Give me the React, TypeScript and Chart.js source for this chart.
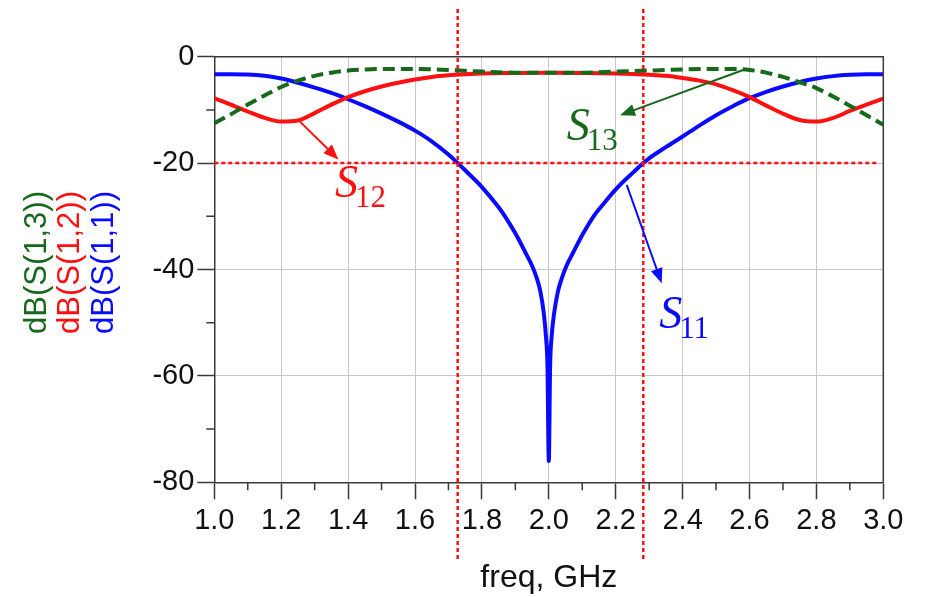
import { useEffect, useRef } from "react";
import { Chart, registerables } from "chart.js";

Chart.register(...registerables);

// ---- Data ----
const freqS11 = [1.0, 1.05, 1.1, 1.15, 1.2, 1.25, 1.3, 1.35, 1.4, 1.45, 1.5, 1.55, 1.6, 1.65, 1.7, 1.7276, 1.75, 1.8, 1.85, 1.869, 1.9, 1.93, 1.95, 1.965, 1.975, 1.985, 1.992, 1.996, 2.0, 2.004, 2.008, 2.016, 2.027, 2.038, 2.053, 2.073, 2.103, 2.134, 2.155, 2.205, 2.255, 2.2825, 2.3, 2.35, 2.4, 2.45, 2.5, 2.55, 2.6, 2.65, 2.7, 2.75, 2.8, 2.85, 2.9, 2.95, 3.0];
const dbS11 = [-3.3, -3.3, -3.35, -3.6, -4.1, -4.9, -5.8, -6.8, -8.0, -9.3, -10.7, -12.2, -13.9, -15.9, -18.4, -20.0, -21.35, -24.5, -28.3, -30.0, -33.2, -36.8, -39.3, -41.8, -44.2, -48.2, -53.0, -58.0, -76.0, -58.0, -53.0, -48.2, -44.2, -41.8, -39.3, -36.8, -33.2, -30.0, -28.3, -24.6, -21.6, -20.0, -19.1, -17.0, -15.0, -12.95, -11.0, -9.3, -7.8, -6.6, -5.6, -4.75, -4.1, -3.65, -3.4, -3.3, -3.3];

const freqS12 = [1.0, 1.05, 1.1, 1.15, 1.2, 1.25, 1.3, 1.35, 1.4, 1.45, 1.5, 1.55, 1.6, 1.65, 1.7, 1.75, 1.8, 1.9, 2.0, 2.1, 2.2, 2.25, 2.3, 2.35, 2.4, 2.45, 2.5, 2.55, 2.6, 2.65, 2.7, 2.75, 2.8, 2.85, 2.9, 2.95, 3.0];
const dbS12 = [-7.8, -9.0, -10.3, -11.5, -12.2, -12.0, -10.6, -9.0, -7.6, -6.5, -5.6, -4.9, -4.3, -3.8, -3.5, -3.3, -3.15, -3.05, -3.0, -3.05, -3.15, -3.25, -3.4, -3.6, -4.0, -4.5, -5.2, -6.3, -7.6, -9.2, -10.7, -11.9, -12.2, -11.5, -10.2, -9.0, -7.9];

const freqS13 = [1.0, 1.05, 1.1, 1.15, 1.2, 1.25, 1.3, 1.35, 1.4, 1.45, 1.5, 1.6, 1.7, 1.8, 1.9, 2.0, 2.1, 2.2, 2.3, 2.4, 2.5, 2.55, 2.6, 2.65, 2.7, 2.75, 2.8, 2.85, 2.9, 2.95, 3.0];
const dbS13 = [-12.5, -10.8, -9.0, -7.3, -5.7, -4.5, -3.6, -3.0, -2.6, -2.4, -2.3, -2.3, -2.5, -2.8, -3.0, -3.0, -3.0, -2.8, -2.6, -2.4, -2.3, -2.3, -2.5, -3.0, -3.8, -4.8, -5.9, -7.5, -9.2, -11.0, -12.8];

const xMin = 1.0;
const xMax = 3.0;
const xStep = 0.2;
const xMinorTicks = [1.1, 1.3, 1.5, 1.7, 1.9, 2.1, 2.3, 2.5, 2.7, 2.9];
const yMin = -80;
const yMax = 0;
const yStep = 20;
const yMinorTicks = [-10, -30, -50, -70];

const markerFreqs = [1.7276, 2.2825];
const markerLevel = -20;

const yTitles = ["dB(S(1,3))", "dB(S(1,2))", "dB(S(1,1))"];
const xTitle = "freq, GHz";

const GREEN = "#16681a";
const RED = "#ff1010";
const BLUE = "#0a0aff";

// annotations: label text, anchor in data coordinates, arrow start/end in data coordinates
const annotations = [
  { main: "S", sub: "12", color: RED, at: [1.361, -26.4], from: [1.256, -12.2], to: [1.371, -19.3] },
  { main: "S", sub: "13", color: GREEN, at: [2.054, -15.7], from: [2.581, -2.5], to: [2.213, -11.0] },
  { main: "S", sub: "11", color: BLUE, at: [2.33, -51.0], from: [2.233, -24.1], to: [2.3375, -42.6] },
];

const overlayPlugin = {
  id: "overlay",
  afterDatasetsDraw(chart: any) {
    const { ctx, chartArea: ca, scales } = chart;
    const x = scales.x;
    const y = scales.y;
    ctx.save();

    // box top/right
    ctx.strokeStyle = "#3a3a3a";
    ctx.lineWidth = 1.5;
    ctx.beginPath();
    ctx.moveTo(ca.left, ca.top);
    ctx.lineTo(ca.right, ca.top);
    ctx.lineTo(ca.right, ca.bottom);
    ctx.stroke();

    // minor ticks
    ctx.lineWidth = 1.5;
    ctx.beginPath();
    for (const v of xMinorTicks) {
      const px = x.getPixelForValue(v);
      ctx.moveTo(px, ca.bottom);
      ctx.lineTo(px, ca.bottom + 8);
    }
    for (const v of yMinorTicks) {
      const py = y.getPixelForValue(v);
      ctx.moveTo(ca.left, py);
      ctx.lineTo(ca.left - 8, py);
    }
    ctx.stroke();

    // red dotted marker lines
    ctx.strokeStyle = RED;
    ctx.lineWidth = 2.5;
    ctx.setLineDash([4, 3]);
    ctx.beginPath();
    for (const f of markerFreqs) {
      const px = x.getPixelForValue(f);
      ctx.moveTo(px, 9);
      ctx.lineTo(px, 562);
    }
    const hy = y.getPixelForValue(markerLevel);
    ctx.moveTo(ca.left, hy);
    ctx.lineTo(ca.right - 5, hy);
    ctx.stroke();
    ctx.setLineDash([]);

    // arrows and labels
    for (const a of annotations) {
      const x1 = x.getPixelForValue(a.from[0]);
      const y1 = y.getPixelForValue(a.from[1]);
      const x2 = x.getPixelForValue(a.to[0]);
      const y2 = y.getPixelForValue(a.to[1]);
      const ang = Math.atan2(y2 - y1, x2 - x1);
      const headL = 15;
      const headW = 6;
      ctx.strokeStyle = a.color;
      ctx.fillStyle = a.color;
      ctx.lineWidth = 2;
      ctx.beginPath();
      ctx.moveTo(x1, y1);
      ctx.lineTo(x2 - headL * 0.8 * Math.cos(ang), y2 - headL * 0.8 * Math.sin(ang));
      ctx.stroke();
      ctx.beginPath();
      ctx.moveTo(x2, y2);
      ctx.lineTo(x2 - headL * Math.cos(ang) - headW * Math.sin(ang), y2 - headL * Math.sin(ang) + headW * Math.cos(ang));
      ctx.lineTo(x2 - headL * Math.cos(ang) + headW * Math.sin(ang), y2 - headL * Math.sin(ang) - headW * Math.cos(ang));
      ctx.closePath();
      ctx.fill();

      const lx = x.getPixelForValue(a.at[0]);
      const ly = y.getPixelForValue(a.at[1]);
      ctx.textAlign = "left";
      ctx.textBaseline = "alphabetic";
      ctx.font = "italic 46px 'Liberation Serif', 'DejaVu Serif', serif";
      ctx.fillText(a.main, lx, ly);
      const w = ctx.measureText(a.main).width;
      ctx.font = "31px 'Liberation Serif', 'DejaVu Serif', serif";
      ctx.fillText(a.sub, lx + w - 3, ly + 10);
    }

    ctx.restore();
  },
  afterDraw(chart: any) {
    const { ctx, chartArea: ca } = chart;
    ctx.save();
    ctx.font = "31px 'Liberation Sans', Arial, sans-serif";
    ctx.textAlign = "center";
    ctx.textBaseline = "middle";
    const colors = [GREEN, RED, BLUE];
    const centers = [37, 70.5, 104];
    const cy = (ca.top + ca.bottom) / 2 - 7;
    yTitles.forEach((t, i) => {
      ctx.save();
      ctx.translate(centers[i], cy);
      ctx.rotate(-Math.PI / 2);
      ctx.fillStyle = colors[i];
      ctx.fillText(t, 0, 0);
      ctx.restore();
    });
    ctx.restore();
  },
};

export default function App() {
  const ref = useRef<HTMLCanvasElement | null>(null);

  useEffect(() => {
    if (!ref.current) return;
    const tickFont = { family: "'Liberation Sans', Arial, sans-serif", size: 29 };
    const chart = new Chart(ref.current, {
      type: "line",
      data: {
        datasets: [
          {
            label: yTitles[0],
            data: freqS13.map((f, i) => ({ x: f, y: dbS13[i] })),
            borderColor: GREEN,
            borderWidth: 4,
            borderDash: [12, 6],
            pointRadius: 0,
            cubicInterpolationMode: "monotone",
            fill: false,
          },
          {
            label: yTitles[1],
            data: freqS12.map((f, i) => ({ x: f, y: dbS12[i] })),
            borderColor: RED,
            borderWidth: 4,
            pointRadius: 0,
            cubicInterpolationMode: "monotone",
            fill: false,
          },
          {
            label: yTitles[2],
            data: freqS11.map((f, i) => ({ x: f, y: dbS11[i] })),
            borderColor: BLUE,
            borderWidth: 4,
            pointRadius: 0,
            cubicInterpolationMode: "monotone",
            fill: false,
          },
        ],
      },
      options: {
        responsive: false,
        animation: false,
        devicePixelRatio: 1,
        layout: { padding: { top: 56.7, right: 43.7, left: 0, bottom: 0 } },
        plugins: {
          legend: { display: false },
          tooltip: { enabled: false },
        },
        scales: {
          x: {
            type: "linear",
            min: xMin,
            max: xMax,
            afterFit: (s: any) => {
              s.height = 114.7;
            },
            ticks: {
              stepSize: xStep,
              color: "#111",
              font: tickFont,
              padding: 4,
              maxRotation: 0,
              autoSkip: false,
              callback: (v: any) => Number(v).toFixed(1),
            },
            grid: {
              color: "#c8c8c8",
              lineWidth: 1,
              tickLength: 17,
              tickColor: "#3a3a3a",
              tickWidth: 1.5,
            },
            border: { color: "#3a3a3a", width: 1.5 },
            title: {
              display: true,
              text: xTitle,
              color: "#111",
              font: { family: "'Liberation Sans', Arial, sans-serif", size: 32 },
              padding: { top: 0, bottom: 0 },
            },
          },
          y: {
            type: "linear",
            min: yMin,
            max: yMax,
            afterFit: (s: any) => {
              s.width = 214.3;
            },
            ticks: {
              stepSize: yStep,
              color: "#111",
              font: tickFont,
              padding: 3,
            },
            grid: {
              color: "#c8c8c8",
              lineWidth: 1,
              tickLength: 17,
              tickColor: "#3a3a3a",
              tickWidth: 1.5,
            },
            border: { color: "#3a3a3a", width: 1.5 },
          },
        },
      },
      plugins: [overlayPlugin],
    } as any);
    return () => chart.destroy();
  }, []);

  return (
    <div style={{ position: "fixed", left: 0, top: 0, width: 927, height: 597, background: "#fff" }}>
      <canvas ref={ref} width={927} height={597} style={{ width: 927, height: 597, display: "block" }} />
    </div>
  );
}
